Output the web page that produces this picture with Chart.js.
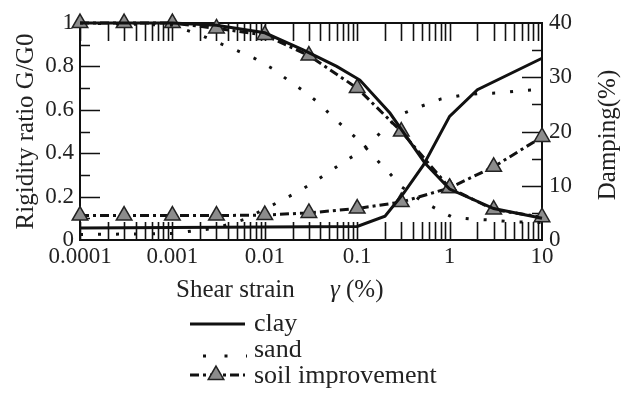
<!DOCTYPE html>
<html lang="en">
<head>
<meta charset="UTF-8">
<title>Rigidity ratio and damping vs shear strain</title>
<script src="https://cdn.jsdelivr.net/npm/chart.js"></script>
<style>
  html, body { margin: 0; padding: 0; background: #fff; }
  .chart-box { position: relative; width: 634px; height: 394px; }
</style>
</head>
<body>
<div class="chart-box"><canvas id="chart"></canvas></div>
<script>
// shear strain in %, G/G0 read on the left axis, damping (%) on the right axis
const xTicks = [0.0001, 0.001, 0.01, 0.1, 1, 10];

const clayGStrain = [0.0001, 0.001, 0.003, 0.01, 0.026, 0.06, 0.107, 0.226, 0.3, 0.54, 1, 3, 10];
const clayG       = [1.0, 1.0, 0.99, 0.955, 0.876, 0.80, 0.737, 0.585, 0.51, 0.355, 0.235, 0.145, 0.1];
const clayDStrain = [0.0001, 0.1, 0.2, 0.32, 0.52, 1.0, 2.0, 10];
const clayDamping = [2.2, 2.5, 4.4, 8.7, 13.8, 22.8, 27.7, 33.5];

const sandGStrain = [0.0001, 0.001, 0.002, 0.0032, 0.0051, 0.008, 0.0123, 0.0183, 0.0272, 0.0396, 0.0561,
                     0.0815, 0.1155, 0.16, 0.221, 0.305, 0.5, 0.695, 1.06, 1.7, 2.8, 4.5, 10];
const sandG       = [1.0, 0.99, 0.945, 0.908, 0.871, 0.834, 0.788, 0.733, 0.682, 0.627, 0.56,
                     0.50, 0.44, 0.373, 0.31, 0.244, 0.18, 0.147, 0.106, 0.097, 0.092, 0.085, 0.08];
const sandDStrain = [0.0001, 0.001, 0.003, 0.006, 0.0133, 0.0207, 0.0316, 0.047, 0.072, 0.11, 0.156,
                     0.22, 0.321, 0.502, 0.807, 1.3, 2.1, 3.4, 5.6, 10];
const sandDamping = [1.0, 1.2, 2.2, 3.8, 6.8, 8.5, 10.3, 12.3, 14.4, 16.4, 18.8,
                     21.3, 23.4, 24.7, 26.0, 26.6, 27.0, 27.1, 27.5, 27.8];

const soilStrain  = [0.0001, 0.0003, 0.001, 0.003, 0.01, 0.03, 0.1, 0.3, 1, 3, 10];
const soilG       = [1.0, 1.0, 1.0, 0.975, 0.945, 0.85, 0.70, 0.50, 0.24, 0.14, 0.105];
const soilDamping = [4.5, 4.5, 4.5, 4.5, 4.6, 5.0, 5.8, 7.0, 9.6, 13.5, 19.0];

const FONT = '"Liberation Serif", "Times New Roman", serif';
const INK = '#111';

function pts(xs, ys) {
  return xs.map((x, i) => ({ x: x, y: ys[i] }));
}

const solid = { borderColor: INK, borderWidth: 3, pointRadius: 0, fill: false };
const dotted = { borderColor: INK, borderWidth: 3, borderDash: [3, 15], pointRadius: 0, fill: false };
const dashDot = {
  borderColor: INK, borderWidth: 3, borderDash: [9, 4, 3, 4], fill: false,
  pointStyle: 'triangle', pointRadius: 9, pointBackgroundColor: '#8c8c8c',
  pointBorderColor: '#222', pointBorderWidth: 1.5
};

// inward ticks on all four sides
const frameTicks = {
  id: 'frameTicks',
  beforeDatasetsDraw(chart) {
    const { ctx, chartArea: a, scales } = chart;
    ctx.save();
    ctx.strokeStyle = INK;
    ctx.lineWidth = 1.6;
    ctx.beginPath();
    for (let e = -4; e <= 0; e++) {
      for (let m = 1; m <= 9; m++) {
        const px = Math.round(scales.x.getPixelForValue(m * Math.pow(10, e))) + 0.5;
        ctx.moveTo(px, a.bottom); ctx.lineTo(px, a.bottom - 18);
        ctx.moveTo(px, a.top); ctx.lineTo(px, a.top + 18);
      }
    }
    for (let i = 1; i < 10; i++) {
      const py = Math.round(scales.y.getPixelForValue(i / 10)) + 0.5;
      ctx.moveTo(a.left, py); ctx.lineTo(a.left + (i % 2 === 0 ? 20 : 10), py);
    }
    for (let i = 1; i < 8; i++) {
      const py = Math.round(scales.y2.getPixelForValue(i * 5)) + 0.5;
      ctx.moveTo(a.right, py); ctx.lineTo(a.right - (i % 2 === 0 ? 20 : 10), py);
    }
    ctx.stroke();
    ctx.restore();
  }
};

// x title with italic gamma, right title read bottom-up, and the legend
const extras = {
  id: 'extras',
  afterDraw(chart) {
    const { ctx } = chart;
    ctx.save();
    ctx.fillStyle = '#222';
    ctx.textBaseline = 'alphabetic';
    ctx.font = '25px ' + FONT;
    ctx.fillText('Shear strain', 176, 297);
    ctx.font = 'italic 25px ' + FONT;
    ctx.fillText('γ', 330, 297);
    ctx.font = '25px ' + FONT;
    ctx.fillText('(%)', 346, 297);

    ctx.save();
    ctx.translate(608, 135);
    ctx.rotate(-Math.PI / 2);
    ctx.textAlign = 'center';
    ctx.textBaseline = 'middle';
    ctx.font = '25px ' + FONT;
    ctx.fillText('Damping(%)', 0, 0);
    ctx.restore();

    const rows = [
      { text: 'clay', ds: 0, lineY: 324, baseY: 331 },
      { text: 'sand', ds: 2, lineY: 356, baseY: 357 },
      { text: 'soil improvement', ds: 4, lineY: 375, baseY: 383 }
    ];
    rows.forEach(r => {
      const d = chart.data.datasets[r.ds];
      ctx.save();
      ctx.strokeStyle = d.borderColor;
      ctx.lineWidth = d.borderWidth;
      ctx.setLineDash(d.borderDash || []);
      ctx.beginPath();
      if (r.ds === 2) {
        ctx.setLineDash([3, 18.5]);
        ctx.moveTo(203, r.lineY); ctx.lineTo(247, r.lineY);
      } else {
        ctx.moveTo(190, r.lineY); ctx.lineTo(245, r.lineY);
      }
      ctx.stroke();
      ctx.setLineDash([]);
      if (d.pointStyle) {
        ctx.fillStyle = d.pointBackgroundColor;
        ctx.strokeStyle = d.pointBorderColor;
        ctx.lineWidth = d.pointBorderWidth;
        Chart.helpers.drawPoint(ctx, { pointStyle: d.pointStyle, radius: d.pointRadius, borderWidth: d.pointBorderWidth, rotation: 0 }, 216, r.lineY);
      }
      ctx.restore();
      ctx.fillStyle = '#222';
      ctx.font = '26px ' + FONT;
      ctx.fillText(r.text, 254, r.baseY);
    });
    ctx.restore();
  }
};

Chart.defaults.font.family = FONT;
Chart.defaults.color = '#222';

new Chart(document.getElementById('chart'), {
  type: 'line',
  data: {
    datasets: [
      Object.assign({ label: 'clay', data: pts(clayGStrain, clayG), yAxisID: 'y' }, solid),
      Object.assign({ label: 'clay damping', data: pts(clayDStrain, clayDamping), yAxisID: 'y2' }, solid),
      Object.assign({ label: 'sand', data: pts(sandGStrain, sandG), yAxisID: 'y' }, dotted),
      Object.assign({ label: 'sand damping', data: pts(sandDStrain, sandDamping), yAxisID: 'y2' }, dotted),
      Object.assign({ label: 'soil improvement', data: pts(soilStrain, soilG), yAxisID: 'y' }, dashDot),
      Object.assign({ label: 'soil improvement damping', data: pts(soilStrain, soilDamping), yAxisID: 'y2' }, dashDot)
    ]
  },
  options: {
    responsive: true,
    maintainAspectRatio: false,
    animation: false,
    clip: false,
    layout: { padding: 0 },
    plugins: { legend: { display: false }, tooltip: { enabled: false } },
    scales: {
      x: {
        type: 'logarithmic', position: 'bottom', min: 0.0001, max: 10,
        grid: { display: false, drawTicks: false },
        border: { display: true, color: INK, width: 2 },
        afterBuildTicks: s => { s.ticks = xTicks.map(v => ({ value: v })); },
        afterFit: s => { s.height = 154; },
        ticks: { font: { size: 23 }, padding: 3, maxRotation: 0, autoSkip: false, callback: v => String(v) }
      },
      x2: {
        type: 'logarithmic', position: 'top', min: 0.0001, max: 10,
        grid: { display: false, drawTicks: false },
        border: { display: true, color: INK, width: 2 },
        ticks: { display: false },
        afterFit: s => { s.height = 23; }
      },
      y: {
        position: 'left', min: 0, max: 1,
        grid: { display: false, drawTicks: false },
        border: { display: true, color: INK, width: 2 },
        afterFit: s => { s.width = 80; },
        ticks: { stepSize: 0.2, font: { size: 23 }, padding: 6, callback: v => String(Math.round(v * 10) / 10) },
        title: { display: true, text: 'Rigidity ratio G/G0', font: { size: 25 }, padding: { top: 11, bottom: 0 } }
      },
      y2: {
        position: 'right', min: 0, max: 40,
        grid: { display: false, drawTicks: false },
        border: { display: true, color: INK, width: 2 },
        afterFit: s => { s.width = 92; },
        ticks: { stepSize: 10, font: { size: 23 }, padding: 7 }
      }
    }
  },
  plugins: [frameTicks, extras]
});
</script>
</body>
</html>
